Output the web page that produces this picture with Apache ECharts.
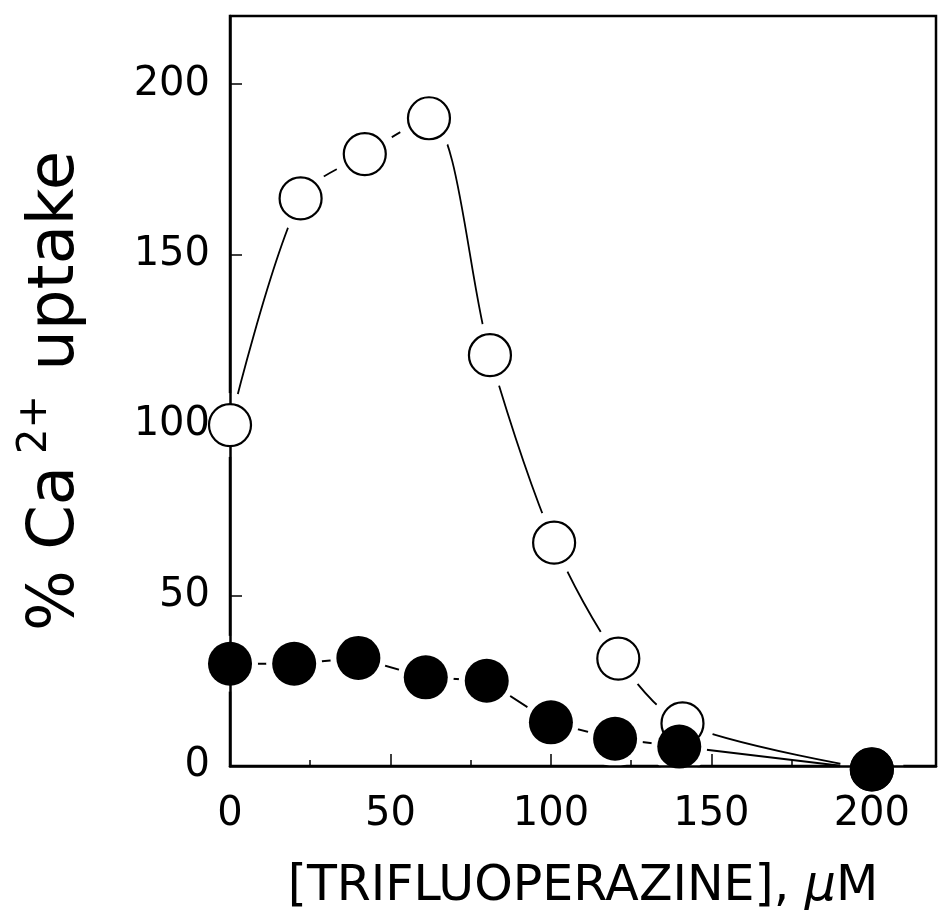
<!DOCTYPE html>
<html>
<head>
<meta charset="utf-8">
<script src="https://cdn.jsdelivr.net/npm/echarts@6/dist/echarts.min.js"></script>
<style>html,body{margin:0;padding:0;background:#fff;}#c{width:938px;height:918px;}</style>
</head>
<body>
<div id="c"></div>
<script>
// Open circles: control (no addition)
const openX = [0, 22, 42, 62, 81, 101, 121, 141, 200];
const openY = [100, 166.5, 179.5, 190, 120.5, 65.5, 31.5, 12.5, -1];
// Filled circles
const filledX = [0, 20, 40, 61, 80, 100, 120, 140, 200];
const filledY = [30, 30, 31.7, 26, 25, 12.8, 8, 5.7, -1];
const xTicks = [0, 50, 100, 150, 200];
const yTicks = [0, 50, 100, 150, 200];
const xTitle = '[TRIFLUOPERAZINE], ';
const xUnitMu = 'μ';
const xUnitM = 'M';
const yTitleA = '% Ca';
const yTitleSup = '2+';
const yTitleB = ' uptake';

const zip = (xs, ys) => xs.map((x, i) => [x, ys[i]]);
const openData = zip(openX, openY);
const filledData = zip(filledX, filledY);

const chart = echarts.init(document.getElementById('c'), null, {renderer: 'canvas'});
const font = 'DejaVu Sans';
chart.setOption({
  animation: false,
  backgroundColor: '#fff',
  grid: {left: 230, right: 2, top: 16, bottom: 152, show: true, borderColor: '#000', borderWidth: 2.5, backgroundColor: 'transparent'},
  xAxis: {
    type: 'value', min: 0, max: 220, interval: 50, z: 2,
    axisLine: {lineStyle: {color: '#000', width: 2.5}},
    axisTick: {inside: true, length: 12, lineStyle: {color: '#000', width: 1.5}},
    minorTick: {show: true, splitNumber: 2, length: 6, lineStyle: {color: '#000', width: 1.5}},
    splitLine: {show: false},
    axisLabel: {margin: 29, fontFamily: font, fontSize: 40, color: '#000', showMaxLabel: false,
      formatter: v => xTicks.includes(v) ? String(v) : ''},
    name: '{n|' + xTitle + '}{i|' + xUnitMu + '}{n|' + xUnitM + '}', nameLocation: 'middle', nameGap: 97,
    nameTextStyle: {rich: {
      n: {fontFamily: font, fontSize: 49, color: '#000'},
      i: {fontFamily: font, fontSize: 49, fontStyle: 'italic', color: '#000'}
    }}
  },
  yAxis: {
    type: 'value', min: 0, max: 220, interval: 50, z: 2,
    axisLine: {lineStyle: {color: '#000', width: 2.5}},
    axisTick: {inside: true, length: 12, lineStyle: {color: '#000', width: 1.5}},
    splitLine: {show: false},
    axisLabel: {margin: 20, fontFamily: font, fontSize: 40, color: '#000', showMaxLabel: false,
      formatter: v => yTicks.includes(v) ? String(v) : ''},
    name: '{m|' + yTitleA + '}{s|' + yTitleSup + '}{m|' + yTitleB + '}',
    nameLocation: 'middle', nameRotate: 90, nameGap: 134,
    nameTextStyle: {rich: {
      m: {fontFamily: font, fontSize: 64, color: '#000', lineHeight: 80},
      s: {fontFamily: font, fontSize: 40, color: '#000', verticalAlign: 'top', lineHeight: 80, padding: [0, 4, 30, 12]}
    }}
  },
  series: [
    {type: 'line', data: openData, smooth: 0.3, showSymbol: false, clip: false, z: 1, silent: true,
      lineStyle: {color: '#000', width: 1.8}},
    {type: 'line', data: filledData, smooth: false, showSymbol: false, clip: false, z: 1, silent: true,
      lineStyle: {color: '#000', width: 2}},
    {type: 'scatter', data: openData, symbol: 'circle', symbolSize: 64, clip: false, z: 1.5, silent: true,
      itemStyle: {color: '#fff', opacity: 1}},
    {type: 'scatter', data: filledData, symbol: 'circle', symbolSize: 56, clip: false, z: 1.5, silent: true,
      itemStyle: {color: '#fff', opacity: 1}},
    {type: 'scatter', data: openData, symbol: 'circle', symbolSize: 42, clip: false, z: 3,
      itemStyle: {color: '#fff', borderColor: '#000', borderWidth: 2.2, opacity: 1}},
    {type: 'scatter', data: filledData, symbol: 'circle', symbolSize: 44, clip: false, z: 4,
      itemStyle: {color: '#000', opacity: 1}}
  ]
});
</script>
</body>
</html>
